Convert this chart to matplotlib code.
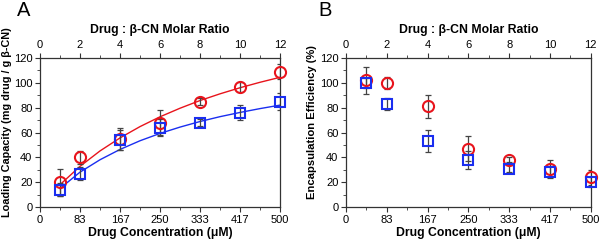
import numpy as np
import matplotlib
matplotlib.use("Agg")
import matplotlib.pyplot as plt
from matplotlib.ticker import MultipleLocator

plt.rcParams['font.family'] = ['Liberation Sans', 'DejaVu Sans']

# molar ratio (top axis) and matching concentration labels (bottom axis)
ratio = [1, 2, 4, 6, 8, 10, 12]
ratio_ticks = [0, 2, 4, 6, 8, 10, 12]
conc_labels = ["0", "83", "167", "250", "333", "417", "500"]

# panel A: loading capacity
lc_red = [20, 40, 55, 68, 85, 97, 109]
lc_red_err = [11, 5, 9, 10, 3, 4, 6]
lc_blue = [14, 27, 54, 64, 68, 76, 85]
lc_blue_err = [5, 5, 8, 7, 3, 6, 7]

# fitted curves at integer ratios
fit_x = [1, 2, 3, 4, 5, 6, 7, 8, 9, 10, 11, 12]
fit_red = [18.0, 32.8, 45.2, 55.7, 64.8, 72.7, 79.6, 85.8, 91.2, 96.1, 100.5, 104.5]
fit_blue = [15.0, 28.1, 38.1, 46.4, 53.4, 59.3, 64.4, 68.9, 72.8, 76.2, 79.3, 82.1]

# panel B: encapsulation efficiency
ee_red = [102, 100, 81, 47, 38, 31, 24]
ee_red_err = [11, 5, 9, 10, 2, 7, 6]
ee_blue = [100, 83, 53, 38, 31, 28, 20]
ee_blue_err = [4, 5, 9, 7, 3, 5, 4]

RED = "#e8141c"
BLUE = "#1a2ef0"
ERR = "#444444"


def style_axes(ax, ylabel, ylab_x, ylab_size):
    ax.set_xlim(0, 12)
    ax.set_ylim(0, 120)
    ax.set_xticks(ratio_ticks)
    ax.set_xticklabels(conc_labels)
    ax.xaxis.set_minor_locator(MultipleLocator(1))
    ax.yaxis.set_major_locator(MultipleLocator(20))
    ax.yaxis.set_minor_locator(MultipleLocator(10))
    ax.tick_params(which="both", direction="out", labelsize=8, color="#333333", right=False, pad=2)
    ax.tick_params(which="major", length=3.5)
    ax.tick_params(which="minor", length=2)
    ax.set_xlabel("Drug Concentration (\u03bcM)", fontsize=8.8, fontweight="bold", labelpad=2)
    ax.set_ylabel(ylabel, fontsize=ylab_size, fontweight="bold")
    ax.yaxis.set_label_coords(ylab_x, 0.57)
    for s in ax.spines.values():
        s.set_color("#333333")
        s.set_linewidth(0.9)

    top = ax.twiny()
    top.set_xlim(0, 12)
    top.set_xticks(ratio_ticks)
    top.xaxis.set_minor_locator(MultipleLocator(1))
    top.tick_params(which="both", direction="out", labelsize=8, color="#333333", pad=2)
    top.tick_params(which="major", length=3.5)
    top.tick_params(which="minor", length=2)
    top.set_xlabel("Drug : \u03b2-CN Molar Ratio", fontsize=8.8, fontweight="bold", labelpad=5)
    for s in top.spines.values():
        s.set_visible(False)


def draw_points(ax, y, err, color, marker, ms):
    ax.errorbar(ratio, y, yerr=err, fmt="none", ecolor=ERR, elinewidth=0.9,
                capsize=2.5, capthick=0.9, zorder=2)
    ax.plot(ratio, y, linestyle="none", marker=marker, ms=ms, mfc="none",
            mec=color, mew=1.5, zorder=3, clip_on=False)


fig = plt.figure(figsize=(6, 2.43), dpi=100)

axA = fig.add_axes([0.0667, 0.148, 0.40, 0.613])
axA.plot(fit_x, fit_red, color=RED, lw=1.0, zorder=2)
axA.plot(fit_x, fit_blue, color=BLUE, lw=1.0, zorder=2)
draw_points(axA, lc_red, lc_red_err, RED, "o", 8)
draw_points(axA, lc_blue, lc_blue_err, BLUE, "s", 7)
style_axes(axA, "Loading Capacity (mg drug / g \u03b2-CN)", -0.115, 7.8)

axB = fig.add_axes([0.5767, 0.148, 0.408, 0.613])
draw_points(axB, ee_red, ee_red_err, RED, "o", 8)
draw_points(axB, ee_blue, ee_blue_err, BLUE, "s", 7)
style_axes(axB, "Encapsulation Efficiency (%)", -0.118, 8.1)

fig.text(0.028, 0.995, "A", fontsize=14.5, va="top", ha="left")
fig.text(0.531, 0.995, "B", fontsize=14.5, va="top", ha="left")

fig.savefig("out.png", dpi=100)
